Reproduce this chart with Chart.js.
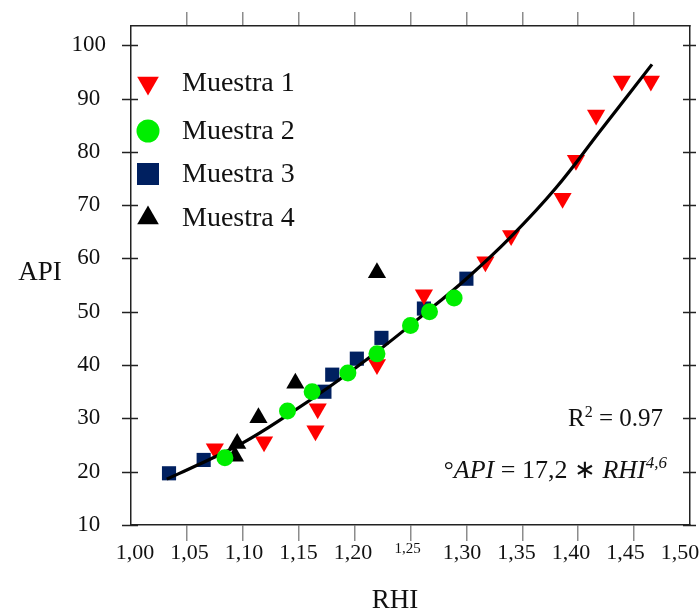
<!DOCTYPE html>
<html>
<head>
<meta charset="utf-8">
<title>API vs RHI</title>
<script src="https://cdn.jsdelivr.net/npm/chart.js@4.4.1/dist/chart.umd.min.js"></script>
<style>
  html, body { margin: 0; padding: 0; background: #fff; }
  #wrap { width: 700px; height: 614px; }
</style>
</head>
<body>
<div id="wrap"><canvas id="chart" width="700" height="614"></canvas></div>
<script>
// Muestra 1 - red, downward triangles
const m1X = [1.075, 1.119, 1.165, 1.167, 1.220, 1.262, 1.317, 1.340, 1.386, 1.398, 1.416, 1.439, 1.465];
const m1Y = [24.3, 25.6, 27.7, 31.8, 40.1, 53.2, 59.4, 64.3, 71.3, 78.4, 86.9, 93.3, 93.3];
// Muestra 2 - green circles
const m2X = [1.084, 1.140, 1.162, 1.194, 1.220, 1.250, 1.267, 1.289];
const m2Y = [22.6, 31.4, 35.0, 38.5, 42.1, 47.4, 50.0, 52.6];
// Muestra 3 - navy squares
const m3X = [1.034, 1.065, 1.173, 1.180, 1.202, 1.224, 1.262, 1.300];
const m3Y = [19.7, 22.2, 35.0, 38.2, 41.2, 45.1, 50.6, 56.2];
// Muestra 4 - black triangles
const m4X = [1.093, 1.095, 1.114, 1.147, 1.220];
const m4Y = [22.9, 25.3, 30.1, 36.6, 57.3];
// fitted curve
const fitX = [1.032, 1.060, 1.100, 1.140, 1.180, 1.220, 1.260, 1.300, 1.340, 1.380, 1.420, 1.466];
const fitY = [18.6, 21.3, 25.4, 30.6, 36.3, 42.5, 49.2, 56.2, 64.1, 73.2, 84.0, 96.4];

const xTicks = [1.00, 1.05, 1.10, 1.15, 1.20, 1.25, 1.30, 1.35, 1.40, 1.45, 1.50];
const yTicks = [10, 20, 30, 40, 50, 60, 70, 80, 90, 100];
const seriesNames = ['Muestra 1', 'Muestra 2', 'Muestra 3', 'Muestra 4'];

const SERIF = '"Liberation Serif", "Times New Roman", serif';
const RED = '#ff0000', GREEN = '#00ee00', NAVY = '#002060', BLACK = '#000000';

const pts = (xs, ys) => xs.map((x, i) => ({ x: x, y: ys[i] }));

// gray tick marks only between the two ends
const innerTick = ctx => (ctx.index === 0 || ctx.index === xTicks.length - 1) ? 'rgba(0,0,0,0)' : '#8c8c8c';
const setXTicks = s => { s.ticks = xTicks.map(v => ({ value: v })); };

// fixed box size, no extra room for label overhang
const fixBox = (w, h) => s => {
  if (w !== null) s.width = w;
  if (h !== null) s.height = h;
  s.paddingLeft = s.paddingRight = s.paddingTop = s.paddingBottom = 0;
};

function shape(ctx, kind, x, y, r) {
  ctx.beginPath();
  if (kind === 'down') {
    ctx.moveTo(x - r * 0.866, y - r * 0.5);
    ctx.lineTo(x + r * 0.866, y - r * 0.5);
    ctx.lineTo(x, y + r);
  } else if (kind === 'up') {
    ctx.moveTo(x - r * 0.866, y + r * 0.5);
    ctx.lineTo(x + r * 0.866, y + r * 0.5);
    ctx.lineTo(x, y - r);
  } else if (kind === 'circle') {
    ctx.arc(x, y, r, 0, Math.PI * 2);
  } else {
    ctx.rect(x - r, y - r, 2 * r, 2 * r);
  }
  ctx.closePath();
  ctx.fill();
}

// frame ticks on the y axes, x labels, legend, axis titles and the fit note
const extras = {
  id: 'extras',
  afterDraw(chart) {
    const { ctx, chartArea: a, scales: { x, y } } = chart;
    ctx.save();

    ctx.strokeStyle = '#222';
    ctx.lineWidth = 1.5;
    ctx.beginPath();
    yTicks.forEach(v => {
      const py = Math.round(y.getPixelForValue(v)) + 0.5;
      ctx.moveTo(a.left - 9, py); ctx.lineTo(a.left + 7, py);
      ctx.moveTo(a.right - 7, py); ctx.lineTo(a.right + 6, py);
    });
    ctx.stroke();

    // x labels sit on a slightly narrower span than the tick marks
    ctx.fillStyle = '#111';
    ctx.textAlign = 'center';
    ctx.textBaseline = 'middle';
    xTicks.forEach(v => {
      const px = x.getPixelForValue(v);
      const lx = a.left + 4 + (px - a.left) * 0.975;
      const small = Math.abs(v - 1.25) < 1e-6;
      ctx.font = (small ? 15 : 22) + 'px ' + SERIF;
      ctx.fillText(v.toFixed(2).replace('.', ','), lx, small ? 549 : 553);
    });

    // legend
    const rows = [83, 131, 174, 218];
    const kinds = [['down', RED, 12.5], ['circle', GREEN, 11.5], ['rect', NAVY, 11], ['up', BLACK, 12.5]];
    ctx.font = '28px ' + SERIF;
    ctx.textAlign = 'left';
    rows.forEach((ry, i) => {
      ctx.fillStyle = kinds[i][1];
      shape(ctx, kinds[i][0], 148, ry, kinds[i][2]);
      ctx.fillStyle = '#111';
      ctx.fillText(seriesNames[i], 182, ry + 1);
    });

    // axis titles
    ctx.font = '27px ' + SERIF;
    ctx.textAlign = 'center';
    ctx.fillText('API', 40, 273);
    ctx.fillText('RHI', 395, 601);

    // R² and equation, right aligned
    const runLine = (parts, right, base) => {
      let w = 0;
      parts.forEach(p => { ctx.font = p.f; w += ctx.measureText(p.t).width; });
      let cx = right - w;
      ctx.textAlign = 'left';
      ctx.textBaseline = 'alphabetic';
      parts.forEach(p => {
        ctx.font = p.f;
        ctx.fillText(p.t, cx, base + (p.dy || 0));
        cx += ctx.measureText(p.t).width;
      });
    };
    runLine([
      { t: 'R', f: '25px ' + SERIF },
      { t: '2', f: '16px ' + SERIF, dy: -9 },
      { t: ' = 0.97', f: '25px ' + SERIF }
    ], 663, 426);
    runLine([
      { t: '°', f: '25px ' + SERIF },
      { t: 'API', f: 'italic 26px ' + SERIF },
      { t: ' = 17,2 ∗ ', f: '26px ' + SERIF },
      { t: 'RHI', f: 'italic 26px ' + SERIF },
      { t: '4,6', f: 'italic 17px ' + SERIF, dy: -10 }
    ], 667, 478);

    ctx.restore();
  }
};

new Chart(document.getElementById('chart'), {
  type: 'scatter',
  data: {
    datasets: [
      { label: seriesNames[1], data: pts(m2X, m2Y), order: 0,
        pointStyle: 'circle', pointRadius: 8.5, backgroundColor: GREEN, borderWidth: 0 },
      { label: seriesNames[3], data: pts(m4X, m4Y), order: 1,
        pointStyle: 'triangle', pointRadius: 10.5, backgroundColor: BLACK, borderWidth: 0 },
      { label: 'Ajuste', data: pts(fitX, fitY), order: 2, showLine: true,
        borderColor: '#000', borderWidth: 3.2, pointRadius: 0, tension: 0.4 },
      { label: seriesNames[0], data: pts(m1X, m1Y), order: 3,
        pointStyle: 'triangle', rotation: 180, pointRadius: 10.5, backgroundColor: RED, borderWidth: 0 },
      { label: seriesNames[2], data: pts(m3X, m3Y), order: 4,
        pointStyle: 'rect', pointRadius: 10, backgroundColor: NAVY, borderWidth: 0 }
    ]
  },
  options: {
    responsive: false,
    animation: false,
    events: [],
    layout: { padding: 0, autoPadding: false },
    plugins: { legend: { display: false }, tooltip: { enabled: false } },
    scales: {
      x: {
        position: 'bottom', min: 1.0, max: 1.5,
        afterBuildTicks: setXTicks,
        afterFit: fixBox(null, 89),
        border: { display: true, color: '#222', width: 1.5 },
        grid: { drawOnChartArea: false, drawTicks: true, tickLength: 16, color: innerTick, lineWidth: 1.5 },
        ticks: { display: false }
      },
      x2: {
        position: 'top', min: 1.0, max: 1.5,
        afterBuildTicks: setXTicks,
        afterFit: fixBox(null, 26),
        border: { display: true, color: '#222', width: 1.5 },
        grid: { drawOnChartArea: false, drawTicks: true, tickLength: 14, color: innerTick, lineWidth: 1.5 },
        ticks: { display: false }
      },
      y: {
        position: 'left', min: 10, max: 103.6,
        afterBuildTicks: s => { s.ticks = yTicks.map(v => ({ value: v })); },
        afterFit: fixBox(131, null),
        border: { display: true, color: '#222', width: 1.5 },
        grid: { drawOnChartArea: false, drawTicks: false },
        ticks: { crossAlign: 'center', padding: 25, color: '#111', font: { family: SERIF, size: 23 } }
      },
      y2: {
        position: 'right', min: 10, max: 103.6,
        afterFit: fixBox(10, null),
        border: { display: true, color: '#222', width: 1.5 },
        grid: { drawOnChartArea: false, drawTicks: false },
        ticks: { display: false }
      }
    }
  },
  plugins: [extras]
});
</script>
</body>
</html>
